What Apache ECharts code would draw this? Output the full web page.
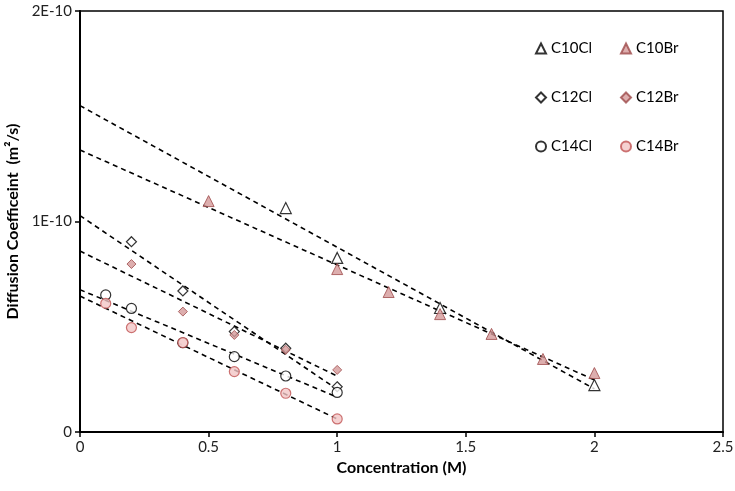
<!DOCTYPE html>
<html><head><meta charset="utf-8">
<script src="https://cdn.jsdelivr.net/npm/echarts@6/dist/echarts.min.js"></script>
<style>html,body{margin:0;padding:0;background:#fff}#c{width:735px;height:491px}</style>
</head><body><div id="c"></div>
<script>
// values in units of 1e-11 m^2/s
var c10clX = [0.8, 1.0, 1.4, 2.0];
var c10clY = [10.64, 8.27, 5.89, 2.23];
var c10brX = [0.5, 1.0, 1.2, 1.4, 1.6, 1.8, 2.0];
var c10brY = [10.97, 7.74, 6.65, 5.60, 4.66, 3.47, 2.80];
var c12clX = [0.2, 0.4, 0.6, 0.8, 1.0];
var c12clY = [9.04, 6.70, 4.77, 3.98, 2.15];
var c12brX = [0.2, 0.4, 0.6, 0.8, 1.0];
var c12brY = [7.98, 5.72, 4.61, 3.90, 2.95];
var c14clX = [0.1, 0.2, 0.4, 0.6, 0.8, 1.0];
var c14clY = [6.51, 5.87, 4.24, 3.58, 2.66, 1.88];
var c14brX = [0.1, 0.2, 0.4, 0.6, 0.8, 1.0];
var c14brY = [6.11, 4.96, 4.25, 2.87, 1.84, 0.62];
var yTickLabels = {0: '0', 1: '1E-10', 2: '2E-10'};
var SCALE = 1e-11;

function pts(xs, ys) { return xs.map(function (x, i) { return [x, ys[i] * SCALE]; }); }
function trend(xs, ys) {
  var n = xs.length, mx = 0, my = 0, sxx = 0, sxy = 0;
  for (var i = 0; i < n; i++) { mx += xs[i]; my += ys[i]; }
  mx /= n; my /= n;
  for (i = 0; i < n; i++) { sxx += (xs[i] - mx) * (xs[i] - mx); sxy += (xs[i] - mx) * (ys[i] - my); }
  var b = sxy / sxx, a = my - b * mx, xe = Math.max.apply(null, xs);
  return [[0, a * SCALE], [xe, (a + b * xe) * SCALE]];
}
var openStyle = {color: '#ffffff', borderColor: '#000000', borderWidth: 1.2};
var brStyle = {color: '#d49a9a', borderColor: '#9e4a4a', borderWidth: 1};
var brCircle = {color: '#f2c6c6', borderColor: '#c05252', borderWidth: 1.2};

function sc(name, xs, ys, sym, size, style) {
  return {name: name, type: 'scatter', symbol: sym, symbolSize: size, data: pts(xs, ys), itemStyle: style, z: 5};
}
function tl(xs, ys) {
  return {type: 'line', data: trend(xs, ys), symbol: 'none', silent: true, z: 3,
    lineStyle: {color: '#000', width: 1.6, type: [5, 4]}};
}
var font = 'Lato, "Open Sans", sans-serif';
var chart = echarts.init(document.getElementById('c'));
chart.setOption({
  animation: false,
  textStyle: {fontFamily: font},
  grid: {left: 80, right: 12, top: 11, bottom: 59, show: true, borderColor: '#000', borderWidth: 1.5,
    backgroundColor: 'transparent', containLabel: false, outerBoundsMode: 'none'},
  legend: [
    {orient: 'vertical', left: 530, top: 36, itemGap: 34, itemWidth: 10, itemHeight: 10,
      textStyle: {fontSize: 15, color: '#000', fontFamily: font},
      data: ['C10Cl', 'C12Cl', 'C14Cl']},
    {orient: 'vertical', left: 615, top: 36, itemGap: 34, itemWidth: 10, itemHeight: 10,
      textStyle: {fontSize: 15, color: '#000', fontFamily: font},
      data: ['C10Br', 'C12Br', 'C14Br']}
  ],
  xAxis: {type: 'value', min: 0, max: 2.5, interval: 0.5,
    name: 'Concentration (M)', nameLocation: 'middle', nameGap: 27,
    nameTextStyle: {fontSize: 16, fontWeight: 'bold', color: '#000', fontFamily: font},
    axisLine: {lineStyle: {color: '#000', width: 2}},
    axisTick: {show: true, length: 5, lineStyle: {color: '#000', width: 1.5}},
    axisLabel: {fontSize: 15, color: '#222', margin: 8},
    splitLine: {show: false}},
  yAxis: {type: 'value', min: 0, max: 2e-10, interval: 1e-10,
    name: 'Diffusion Coefficeint  (m\u00B2/s)', nameLocation: 'middle', nameGap: 44,
    nameTextStyle: {fontSize: 16, fontWeight: 'bold', color: '#000', fontFamily: font},
    axisLine: {show: true, lineStyle: {color: '#000', width: 2}},
    axisTick: {show: true, length: 5, lineStyle: {color: '#000', width: 1.5}},
    axisLabel: {fontSize: 15, color: '#222', margin: 8,
      formatter: function (v) { var k = Math.round(v / 1e-10); return yTickLabels[k] !== undefined ? yTickLabels[k] : ''; }},
    splitLine: {show: false}},
  series: [
    tl(c10clX, c10clY), tl(c10brX, c10brY), tl(c12clX, c12clY),
    tl(c12brX, c12brY), tl(c14clX, c14clY), tl(c14brX, c14brY),
    sc('C10Cl', c10clX, c10clY, 'triangle', 11, openStyle),
    sc('C10Br', c10brX, c10brY, 'triangle', 11, brStyle),
    sc('C12Cl', c12clX, c12clY, 'diamond', 10, openStyle),
    sc('C12Br', c12brX, c12brY, 'diamond', 9, brStyle),
    sc('C14Cl', c14clX, c14clY, 'circle', 10, openStyle),
    sc('C14Br', c14brX, c14brY, 'circle', 10, brCircle)
  ]
});
</script></body></html>
